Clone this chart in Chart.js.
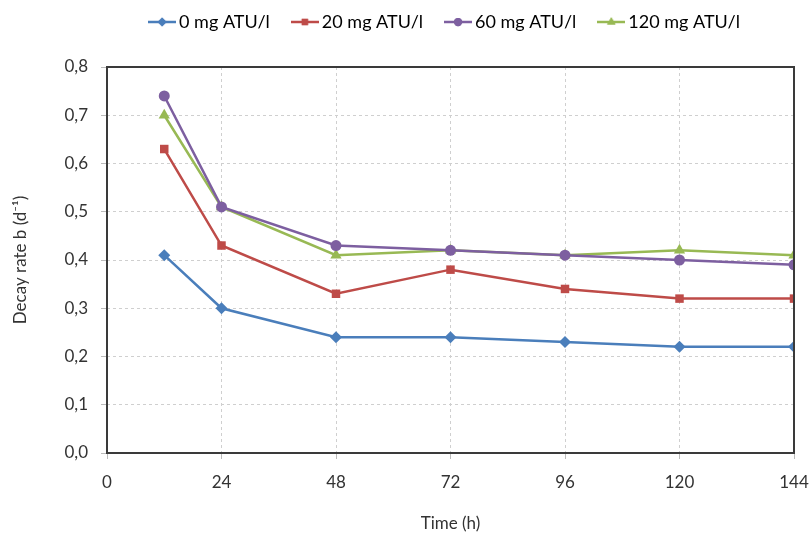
<!DOCTYPE html>
<html>
<head>
<meta charset="utf-8">
<script src="https://cdn.jsdelivr.net/npm/chart.js@4"></script>
<style>
  html, body { margin: 0; padding: 0; background: #fff; }
  #wrap { width: 811px; height: 534px; }
</style>
</head>
<body>
<div id="wrap"><canvas id="decayChart" width="811" height="534"></canvas></div>
<script>
// time points (h)
var hours = [12, 24, 48, 72, 96, 120, 144];
var seriesNames = ['0 mg ATU/l', '20 mg ATU/l', '60 mg ATU/l', '120 mg ATU/l'];
var atu0 = [0.41, 0.30, 0.24, 0.24, 0.23, 0.22, 0.22];
var atu20 = [0.63, 0.43, 0.33, 0.38, 0.34, 0.32, 0.32];
var atu60 = [0.74, 0.51, 0.43, 0.42, 0.41, 0.40, 0.39];
var atu120 = [0.70, 0.51, 0.41, 0.42, 0.41, 0.42, 0.41];

var colors = ['#4a7ebb', '#be4b48', '#7d5fa0', '#98b954'];
var markers = ['rectRot', 'rect', 'circle', 'triangle'];
var markerSize = [6, 6, 5.5, 6.5];

var LEGEND_PAD = 27;

function toPoints(ys) {
    return hours.map(function(h, i) { return { x: h, y: ys[i] }; });
}

// little line+marker icon for the legend, like Excel does
function legendIcon(color, style, r) {
    var c = document.createElement('canvas');
    c.width = 28; c.height = 14;
    var ctx = c.getContext('2d');
    ctx.strokeStyle = color;
    ctx.lineWidth = 2.5;
    ctx.beginPath();
    ctx.moveTo(0, 7);
    ctx.lineTo(28, 7);
    ctx.stroke();
    ctx.fillStyle = color;
    Chart.helpers.drawPoint(ctx, { pointStyle: style, radius: r * 0.75, borderWidth: 0, rotation: 0 }, 14, 7);
    ctx.fill();
    return c;
}

var plotBorder = {
    id: 'plotBorder',
    afterInit: function(chart) {
        // legend band is taller than the legend row itself
        var leg = chart.legend;
        var fit = leg.fit;
        leg.fit = function() {
            fit.call(this);
            this.height = 67;
        };
    },
    afterLayout: function(chart) {
        // Excel places the legend a bit right of centre and near the top
        var leg = chart.legend;
        leg.left += 45;
        leg.right += 45;
        leg.top = 22 - 9 - LEGEND_PAD;
    },
    afterDraw: function(chart) {
        var a = chart.chartArea;
        var ctx = chart.ctx;
        ctx.save();
        ctx.strokeStyle = '#3a3a3a';
        ctx.lineWidth = 2;
        ctx.strokeRect(a.left, a.top, a.right - a.left, a.bottom - a.top);
        ctx.restore();
    }
};

var allSeries = [atu0, atu20, atu60, atu120];
var datasets = allSeries.map(function(ys, i) {
    return {
        label: seriesNames[i],
        data: toPoints(ys),
        borderColor: colors[i],
        backgroundColor: colors[i],
        borderWidth: 2.5,
        pointStyle: markers[i],
        pointRadius: markerSize[i],
        pointBorderWidth: 0,
        tension: 0
    };
});

var fontFamily = 'Lato, "Open Sans", sans-serif';

new Chart(document.getElementById('decayChart').getContext('2d'), {
    type: 'line',
    data: { datasets: datasets },
    plugins: [plotBorder],
    options: {
        responsive: false,
        animation: false,
        layout: { padding: { left: 10, right: 17, top: 0, bottom: 0 } },
        plugins: {
            tooltip: { enabled: false },
            legend: {
                position: 'top',
                labels: {
                    usePointStyle: true,
                    pointStyleWidth: 16,
                    color: '#333',
                    font: { family: fontFamily, size: 18 },
                    padding: LEGEND_PAD,
                    boxHeight: 14,
                    generateLabels: function(chart) {
                        return chart.data.datasets.map(function(ds, i) {
                            return {
                                text: ds.label,
                                fillStyle: ds.borderColor,
                                strokeStyle: ds.borderColor,
                                lineWidth: 0,
                                pointStyle: legendIcon(ds.borderColor, markers[i], markerSize[i]),
                                datasetIndex: i,
                                hidden: false
                            };
                        });
                    }
                }
            }
        },
        scales: {
            x: {
                type: 'linear',
                min: 0,
                max: 144,
                ticks: {
                    stepSize: 24,
                    color: '#333',
                    font: { family: fontFamily, size: 17 },
                    padding: 13
                },
                grid: { color: '#cfcfcf', tickLength: 6, tickColor: '#bbb' },
                border: { display: false, dash: [3, 3] },
                title: {
                    display: true,
                    text: 'Time (h)',
                    color: '#333',
                    font: { family: fontFamily, size: 17 },
                    padding: { top: 12, bottom: 0 }
                },
                afterFit: function(scale) {
                    scale.height = 81;
                    // let the "144" label hang into the right margin
                    scale.paddingLeft = 0;
                    scale.paddingRight = 0;
                }
            },
            y: {
                min: 0,
                max: 0.8,
                ticks: {
                    stepSize: 0.1,
                    color: '#333',
                    font: { family: fontFamily, size: 17 },
                    padding: 13,
                    callback: function(v) { return v.toFixed(1).replace('.', ','); }
                },
                grid: { color: '#cfcfcf', tickLength: 6, tickColor: '#bbb' },
                border: { display: false, dash: [3, 3] },
                title: {
                    display: true,
                    text: 'Decay rate b (d\u207B\u00B9)',
                    color: '#333',
                    font: { family: fontFamily, size: 17 },
                    padding: { top: 0, bottom: 8 }
                },
                afterFit: function(scale) { scale.width = 97; }
            }
        }
    }
});
</script>
</body>
</html>
